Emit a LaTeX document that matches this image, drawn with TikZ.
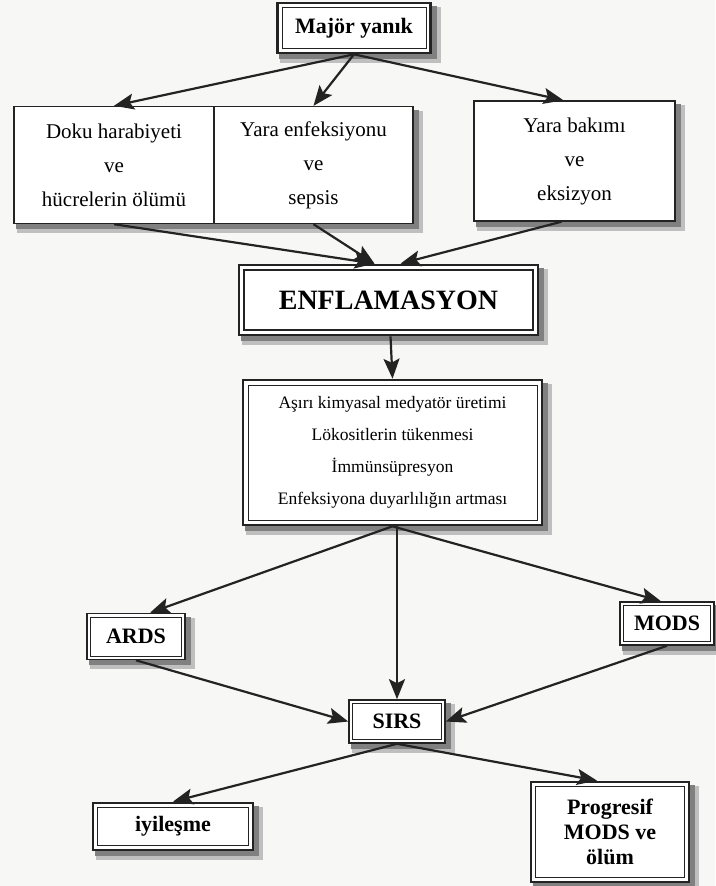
\documentclass[tikz,border=0pt]{standalone}
\usepackage{fontspec}
\setmainfont{Liberation Serif}
\usetikzlibrary{arrows.meta,calc}

\definecolor{paper}{RGB}{247,247,245}
\definecolor{ink}{RGB}{35,35,35}
\pgfdeclarelayer{back}
\pgfsetlayers{back,main}

\tikzset{
  box/.style={draw=ink, fill=white, line width=1.4pt, align=center, inner sep=0pt},
  frame/.style n args={3}{box, line width=#1,
    path picture={\draw[ink, line width=#3]
      ([shift={(#2,-#2)}]path picture bounding box.north west) rectangle
      ([shift={(-#2,#2)}]path picture bounding box.south east);}},
  arr/.style={draw=ink, line width=2.2pt, -{Stealth[length=20pt,width=16pt,inset=4pt]}},
  lbl/.style={font=\fontsize{22}{25}\selectfont\bfseries},
  txt/.style={font=\fontsize{21}{34}\selectfont},
}

\begin{document}
\begin{tikzpicture}[x=1pt,y=-1pt]
\begin{pgfonlayer}{back}
\fill[paper] (0,0) rectangle (715,886);
\end{pgfonlayer}
\useasboundingbox (0,0) rectangle (715,886);

\node[frame={2.6pt}{4.5pt}{.8pt}, lbl, minimum width=153pt, minimum height=50pt] (major) at (354,28) {Majör yanık};

\node[box, txt, minimum width=200pt, minimum height=117pt] (doku) at (114,165) {Doku harabiyeti\\ve\\hücrelerin ölümü};
\node[box, txt, minimum width=199pt, minimum height=117pt] (yara) at (313.5,165) {Yara enfeksiyonu\\ve\\sepsis};
\node[box, txt, minimum width=201pt, minimum height=120pt] (bakim) at (574.5,161) {Yara bakımı\\ve\\eksizyon};

\node[frame={2.8pt}{5pt}{1.2pt}, font=\fontsize{28}{30}\selectfont\bfseries, minimum width=299pt, minimum height=70pt] (enf) at (388.5,300) {ENFLAMASYON};

\node[frame={2.6pt}{5pt}{.8pt}, font=\fontsize{17.5}{32}\selectfont, minimum width=299pt, minimum height=145pt] (mid) at (392.5,452.5)
  {Aşırı kimyasal medyatör üretimi\\Lökositlerin tükenmesi\\İmmünsüpresyon\\Enfeksiyona duyarlılığın artması};

\node[frame={1.6pt}{3.5pt}{.8pt}, lbl, minimum width=98pt, minimum height=46pt] (ards) at (136,636.5) {ARDS};
\node[frame={1.6pt}{3.5pt}{.8pt}, lbl, minimum width=94pt, minimum height=43pt] (mods) at (667,623.5) {MODS};
\node[frame={1.6pt}{3.5pt}{.8pt}, lbl, minimum width=96pt, minimum height=43pt] (sirs) at (397,721.5) {SIRS};

\node[frame={2.8pt}{4.5pt}{1.4pt}, lbl, minimum width=160pt, minimum height=47pt] (iyi) at (173,826.5) {iyileşme};
\node[frame={2.8pt}{4.5pt}{1.4pt}, lbl, minimum width=158pt, minimum height=100pt] (prog) at (610,832) {Progresif\\MODS ve\\ölüm};

% shadows behind the boxes
\begin{pgfonlayer}{back}
\foreach \n in {major,doku,yara,bakim,enf,mid,ards,mods,sirs,iyi,prog}{
  \fill[black!25] ($(\n.north west)+(4,5)$) rectangle ($(\n.south east)+(9,9)$);
  \fill[black!50] ($(\n.north west)+(3,4)$) rectangle ($(\n.south east)+(5,5)$);
}
\end{pgfonlayer}

% arrows
\foreach \t in {doku,yara}{\draw[arr] (major.south) -- (\t.north);}
\draw[arr] (major.south) -- ([xshift=-11pt]bakim.north);
\foreach \t in {doku,yara}{\draw[arr] (\t.south) -- ([xshift=-14pt]enf.north);}
\draw[arr] ([xshift=-13pt]bakim.south) -- ([xshift=12pt]enf.north);
\draw[arr] ([xshift=2pt]enf.south) -- (mid.north);
\draw[arr] (mid.south) -- ([xshift=14pt]ards.north);
\draw[arr] (mid.south) -- ([xshift=-6pt]mods.north);
\draw[arr] (mid.south -| sirs.north) -- (sirs.north);
\draw[arr] (ards.south) -- (sirs.west);
\draw[arr] (mods.south) -- (sirs.east);
\draw[arr] (sirs.south) -- (iyi.north);
\draw[arr] (sirs.south) -- ([xshift=-13pt]prog.north);
\end{tikzpicture}
\end{document}
